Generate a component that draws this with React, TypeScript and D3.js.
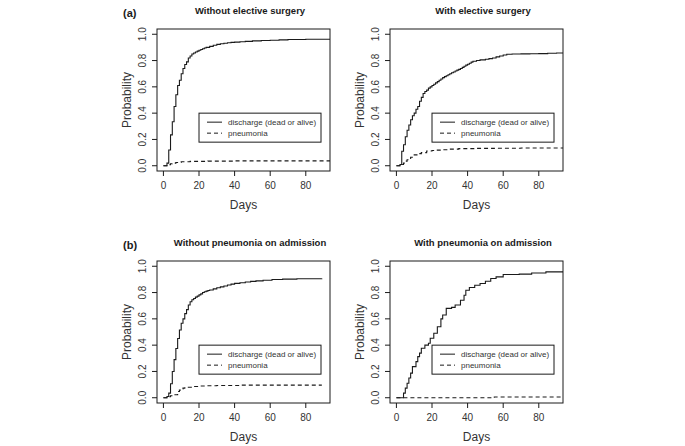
import { useEffect, useRef } from 'react';
import * as d3 from 'd3';

// cumulative incidence curves (days -> probability)
const noSurgeryDischargeDays = [0, 2, 3, 4, 5, 6, 7, 8, 9, 10, 11, 12, 13, 14, 15, 16, 17, 18, 19, 20, 21, 22, 23, 24, 26, 28, 30, 32, 34, 36, 38, 40, 43, 46, 50, 55, 60, 65, 70, 80, 95];
const noSurgeryDischargeProb = [0, 0.02, 0.12, 0.235, 0.335, 0.45, 0.54, 0.61, 0.65, 0.7, 0.74, 0.77, 0.79, 0.82, 0.835, 0.85, 0.858, 0.865, 0.872, 0.878, 0.884, 0.89, 0.895, 0.9, 0.908, 0.916, 0.923, 0.928, 0.932, 0.935, 0.938, 0.94, 0.943, 0.946, 0.95, 0.952, 0.955, 0.957, 0.96, 0.962, 0.965];
const noSurgeryPneumoniaDays = [0, 3, 4, 5, 7, 10, 15, 25, 40, 95];
const noSurgeryPneumoniaProb = [0, 0.008, 0.015, 0.02, 0.025, 0.03, 0.033, 0.035, 0.037, 0.038];

const surgeryDischargeDays = [0, 2, 3, 4, 5, 6, 7, 8, 9, 10, 11, 12, 13, 14, 15, 16, 17, 18, 19, 20, 21, 22, 23, 24, 25, 26, 27, 28, 29, 30, 31, 32, 33, 34, 35, 36, 37, 38, 39, 40, 41, 42, 43, 45, 47, 50, 52, 54, 56, 58, 60, 62, 65, 70, 75, 80, 85, 90, 95];
const surgeryDischargeProb = [0, 0.01, 0.11, 0.16, 0.22, 0.27, 0.31, 0.35, 0.38, 0.4, 0.43, 0.45, 0.49, 0.52, 0.55, 0.565, 0.575, 0.59, 0.6, 0.61, 0.62, 0.63, 0.64, 0.65, 0.66, 0.67, 0.678, 0.685, 0.692, 0.7, 0.707, 0.713, 0.72, 0.727, 0.733, 0.74, 0.748, 0.757, 0.765, 0.772, 0.78, 0.788, 0.795, 0.8, 0.805, 0.81, 0.815, 0.82, 0.828, 0.835, 0.842, 0.848, 0.85, 0.851, 0.852, 0.853, 0.855, 0.857, 0.86];
const surgeryPneumoniaDays = [0, 3, 4, 5, 6, 8, 10, 12, 14, 17, 20, 22, 25, 30, 35, 45, 55, 70, 95];
const surgeryPneumoniaProb = [0, 0.01, 0.02, 0.035, 0.045, 0.065, 0.083, 0.092, 0.1, 0.112, 0.116, 0.119, 0.122, 0.126, 0.13, 0.132, 0.133, 0.135, 0.137];

const noPneuAdmDischargeDays = [0, 2, 3, 4, 5, 6, 7, 8, 9, 10, 11, 12, 13, 14, 15, 16, 17, 18, 19, 20, 21, 22, 23, 24, 25, 26, 28, 30, 32, 34, 36, 38, 40, 43, 46, 49, 52, 56, 61, 67, 75, 89];
const noPneuAdmDischargeProb = [0, 0.01, 0.035, 0.106, 0.2, 0.29, 0.375, 0.45, 0.515, 0.566, 0.6, 0.64, 0.67, 0.705, 0.73, 0.745, 0.755, 0.765, 0.773, 0.782, 0.79, 0.8, 0.806, 0.811, 0.816, 0.82, 0.828, 0.836, 0.843, 0.85, 0.857, 0.864, 0.87, 0.875, 0.88, 0.885, 0.889, 0.894, 0.899, 0.902, 0.905, 0.907];
const noPneuAdmPneumoniaDays = [0, 3, 4, 6, 8, 9, 10, 11, 12, 14, 17, 20, 24, 30, 43, 89];
const noPneuAdmPneumoniaProb = [0, 0.008, 0.015, 0.023, 0.048, 0.058, 0.066, 0.073, 0.076, 0.08, 0.086, 0.089, 0.091, 0.093, 0.096, 0.096];

const pneuAdmDischargeDays = [0, 4, 5, 6, 7, 8, 9, 11, 12, 13, 14, 16, 18, 19, 21, 23, 25, 26, 28, 31, 33, 36, 38, 39, 41, 44, 47, 50, 53, 56, 60, 69, 76, 84, 95];
const pneuAdmDischargeProb = [0, 0.035, 0.073, 0.11, 0.15, 0.187, 0.237, 0.275, 0.313, 0.339, 0.376, 0.4, 0.414, 0.452, 0.49, 0.54, 0.6, 0.629, 0.68, 0.687, 0.705, 0.742, 0.78, 0.818, 0.838, 0.856, 0.869, 0.886, 0.907, 0.919, 0.937, 0.94, 0.949, 0.957, 0.957];
const pneuAdmPneumoniaDays = [0, 55, 95];
const pneuAdmPneumoniaProb = [0, 0.006, 0.006];

const panelTitles = [
  'Without elective surgery',
  'With elective surgery',
  'Without pneumonia on admission',
  'With pneumonia on admission',
];
const rowLabels = ['(a)', '(b)'];
const legendLabels = ['discharge (dead or alive)', 'pneumonia'];
const xTicks = [0, 20, 40, 60, 80];
const yTicks = [0, 0.2, 0.4, 0.6, 0.8, 1.0];

const series = [
  [noSurgeryDischargeDays, noSurgeryDischargeProb, noSurgeryPneumoniaDays, noSurgeryPneumoniaProb],
  [surgeryDischargeDays, surgeryDischargeProb, surgeryPneumoniaDays, surgeryPneumoniaProb],
  [noPneuAdmDischargeDays, noPneuAdmDischargeProb, noPneuAdmPneumoniaDays, noPneuAdmPneumoniaProb],
  [pneuAdmDischargeDays, pneuAdmDischargeProb, pneuAdmPneumoniaDays, pneuAdmPneumoniaProb],
];

const FONT = '"Liberation Sans", Arial, Helvetica, sans-serif';
const INK = '#1a1a1a';

export default function App() {
  const svgRef = useRef<SVGSVGElement>(null);

  useEffect(() => {
    if (!svgRef.current) return;
    const svg = d3.select(svgRef.current);
    svg.selectAll('*').remove();

    const cols = [157, 390];
    const rows = [29, 261];
    const boxW = 173;
    const boxH = 142;

    rows.forEach((top, r) => {
      svg.append('text')
        .attr('x', 123)
        .attr('y', top - 12)
        .attr('font-family', FONT)
        .attr('font-size', 11)
        .attr('font-weight', 'bold')
        .attr('fill', INK)
        .text(rowLabels[r]);
    });

    series.forEach((s, i) => {
      const left = cols[i % 2];
      const top = rows[Math.floor(i / 2)];
      const bottom = top + boxH;

      const x = d3.scaleLinear().domain([-3.6, 93.6]).range([left, left + boxW]);
      const y = d3.scaleLinear().domain([-0.04, 1.04]).range([bottom, top]);

      const g = svg.append('g');
      const clipId = `clip-${i}`;
      svg.append('defs').append('clipPath').attr('id', clipId)
        .append('rect')
        .attr('x', left).attr('y', top).attr('width', boxW).attr('height', boxH);

      // title
      g.append('text')
        .attr('x', left + boxW / 2 + 6.5)
        .attr('y', top - 15)
        .attr('text-anchor', 'middle')
        .attr('font-family', FONT)
        .attr('font-size', 9.5)
        .attr('font-weight', 'bold')
        .attr('fill', INK)
        .text(panelTitles[i]);

      // curves
      const line = d3.line<[number, number]>()
        .x(d => x(d[0]))
        .y(d => y(d[1]))
        .curve(d3.curveStepAfter);

      const discharge = s[0].map((d, k) => [d, s[1][k]] as [number, number]);
      const pneumonia = s[2].map((d, k) => [d, s[3][k]] as [number, number]);

      const curves = g.append('g').attr('clip-path', `url(#${clipId})`);
      curves.append('path')
        .datum(discharge)
        .attr('fill', 'none')
        .attr('stroke', INK)
        .attr('stroke-width', 1.1)
        .attr('d', line);
      curves.append('path')
        .datum(pneumonia)
        .attr('fill', 'none')
        .attr('stroke', INK)
        .attr('stroke-width', 1.1)
        .attr('stroke-dasharray', '4,3')
        .attr('d', line);

      // box
      g.append('rect')
        .attr('x', left).attr('y', top)
        .attr('width', boxW).attr('height', boxH)
        .attr('fill', 'none')
        .attr('stroke', INK)
        .attr('stroke-width', 1);

      // y axis
      yTicks.forEach(t => {
        g.append('line')
          .attr('x1', left - 5).attr('x2', left)
          .attr('y1', y(t)).attr('y2', y(t))
          .attr('stroke', INK);
        g.append('text')
          .attr('transform', `translate(${left - 15},${y(t)}) rotate(-90)`)
          .attr('dy', '0.35em')
          .attr('text-anchor', 'middle')
          .attr('font-family', FONT)
          .attr('font-size', 10)
          .attr('fill', '#333')
          .text(t.toFixed(1));
      });
      g.append('text')
        .attr('transform', `translate(${left - 30},${top + boxH / 2}) rotate(-90)`)
        .attr('dy', '0.35em')
        .attr('text-anchor', 'middle')
        .attr('font-family', FONT)
        .attr('font-size', 12)
        .attr('fill', '#333')
        .text('Probability');

      // x axis
      xTicks.forEach(t => {
        g.append('line')
          .attr('x1', x(t)).attr('x2', x(t))
          .attr('y1', bottom).attr('y2', bottom + 5)
          .attr('stroke', INK);
        g.append('text')
          .attr('x', x(t))
          .attr('y', bottom + 18)
          .attr('text-anchor', 'middle')
          .attr('font-family', FONT)
          .attr('font-size', 10)
          .attr('fill', '#333')
          .text(t);
      });
      g.append('text')
        .attr('x', x(45))
        .attr('y', bottom + 38)
        .attr('text-anchor', 'middle')
        .attr('font-family', FONT)
        .attr('font-size', 12)
        .attr('fill', '#333')
        .text('Days');

      // legend at (20, 0.4)
      const lx = x(20);
      const ly = y(0.4);
      g.append('rect')
        .attr('x', lx).attr('y', ly)
        .attr('width', 122).attr('height', 29)
        .attr('fill', 'white')
        .attr('stroke', INK);
      legendLabels.forEach((lab, k) => {
        const yy = ly + 9 + k * 11;
        g.append('line')
          .attr('x1', lx + 8).attr('x2', lx + 23)
          .attr('y1', yy).attr('y2', yy)
          .attr('stroke', INK)
          .attr('stroke-dasharray', k === 1 ? '4,3' : null);
        g.append('text')
          .attr('x', lx + 29)
          .attr('y', yy)
          .attr('dy', '0.35em')
          .attr('font-family', FONT)
          .attr('font-size', 8)
          .attr('fill', '#333')
          .text(lab);
      });
    });
  }, []);

  return (
    <div style={{ position: 'absolute', left: 0, top: 0 }}>
      <svg ref={svgRef} width={685} height={446} style={{ display: 'block', background: 'white' }} />
    </div>
  );
}
